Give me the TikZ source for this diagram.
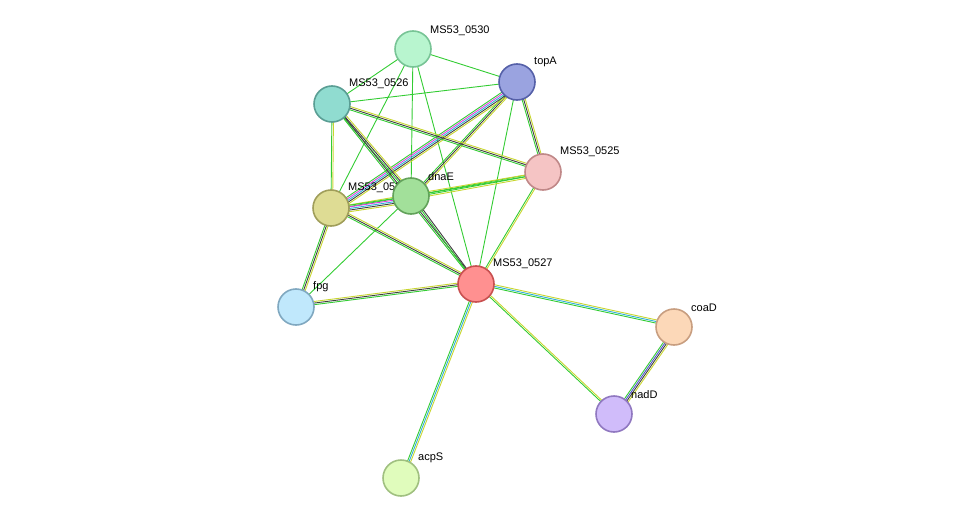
\documentclass[tikz,border=0pt]{standalone}
\usepackage{fontspec}
\setmainfont{Liberation Sans}
\usetikzlibrary{calc}
\definecolor{eg}{HTML}{33CC33}
\definecolor{ey}{HTML}{C8D630}
\definecolor{ed}{HTML}{404040}
\definecolor{em}{HTML}{E040E0}
\definecolor{eb}{HTML}{30B0D8}
\definecolor{ev}{HTML}{5050D0}
\tikzset{
  prot/.style={circle,line width=1.6pt,minimum size=36pt,inner sep=0pt},
  plabel/.style={font=\fontsize{11}{12}\selectfont,anchor=south west,inner sep=1pt},
}
\newcommand{\link}[3]{%
  \foreach \c [count=\i] in {#3} {%
    \pgfmathsetmacro{\o}{(\i-1)*1.6}
    \draw[\c,line width=0.9pt] ($(#1)!\o pt!90:(#2)$) -- ($(#2)!\o pt!-90:(#1)$);
  }}
\begin{document}
\begin{tikzpicture}[x=1pt,y=-1pt]
  \useasboundingbox (0,0) rectangle (976,524);
  % positions
  \coordinate (p0530) at (413,49);
  \coordinate (ptopA) at (517,82);
  \coordinate (p0526) at (332,104);
  \coordinate (p0525) at (543,172);
  \coordinate (pdnaE) at (411,196);
  \coordinate (p0524) at (331,208);
  \coordinate (p0527) at (476,284);
  \coordinate (pfpg) at (296,307);
  \coordinate (pcoaD) at (674,327);
  \coordinate (pnadD) at (614,414);
  \coordinate (pacpS) at (401,478);
  % edges
  \link{p0530}{ptopA}{eg}
  \link{p0530}{p0526}{eg}
  \link{p0530}{pdnaE}{eg}
  \link{p0530}{p0524}{eg}
  \link{p0530}{p0527}{eg}
  \link{ptopA}{p0526}{eg}
  \link{ptopA}{p0525}{eg,ed,ey}
  \link{ptopA}{pdnaE}{eg,ed,ey}
  \link{ptopA}{p0524}{eg,em,eb,ed,ey}
  \link{ptopA}{p0527}{eg}
  \link{p0526}{p0525}{eg,ed,ey}
  \link{p0526}{pdnaE}{eg,ed,ey}
  \link{p0526}{p0524}{eg,ey}
  \link{p0526}{p0527}{eg,ed}
  \link{p0525}{pdnaE}{eg,eg,ey}
  \link{p0525}{p0524}{ey,eg}
  \link{p0525}{p0527}{eg,ey}
  \link{pdnaE}{p0524}{eg,em,eb,ed,ey}
  \link{pdnaE}{p0527}{eg,ed}
  \link{pdnaE}{pfpg}{eg}
  \link{p0524}{pfpg}{eg,ed,ey}
  \link{p0524}{p0527}{eg,ed,ey}
  \link{pfpg}{p0527}{eg,ed,ey}
  \link{p0527}{pcoaD}{eg,eb,ey}
  \link{p0527}{pnadD}{eg,ey}
  \link{p0527}{pacpS}{eg,eb,ey}
  \link{pcoaD}{pnadD}{eg,ev,ed,ey}
  % proteins
  \node[prot,fill={rgb,255:red,184;green,245;blue,207},draw={rgb,255:red,120;green,196;blue,150}] (n0530) at (p0530) {};
  \node[plabel] at ($(p0530)+(16,-12)$) {MS53\_0530};
  \node[prot,fill={rgb,255:red,154;green,163;blue,224},draw={rgb,255:red,85;green,96;blue,168}] (ntopA) at (ptopA) {};
  \node[plabel] at ($(ptopA)+(16,-14)$) {topA};
  \node[prot,fill={rgb,255:red,144;green,220;blue,208},draw={rgb,255:red,90;green,158;blue,148}] (n0526) at (p0526) {};
  \node[plabel] at ($(p0526)+(16,-14)$) {MS53\_0526};
  \node[prot,fill={rgb,255:red,245;green,196;blue,196},draw={rgb,255:red,192;green,136;blue,136}] (n0525) at (p0525) {};
  \node[plabel] at ($(p0525)+(16,-14)$) {MS53\_0525};
  \node[prot,fill={rgb,255:red,222;green,220;blue,148},draw={rgb,255:red,160;green,158;blue,90}] (n0524) at (p0524) {};
  \node[plabel] at ($(p0524)+(16,-14)$) {MS53\_0524};
  \node[prot,fill={rgb,255:red,162;green,224;blue,154},draw={rgb,255:red,98;green,162;blue,90}] (ndnaE) at (pdnaE) {};
  \node[plabel] at ($(pdnaE)+(16,-14)$) {dnaE};
  \node[prot,fill={rgb,255:red,255;green,144;blue,144},draw={rgb,255:red,200;green,80;blue,80}] (n0527) at (p0527) {};
  \node[plabel] at ($(p0527)+(16,-14)$) {MS53\_0527};
  \node[prot,fill={rgb,255:red,192;green,232;blue,252},draw={rgb,255:red,128;green,168;blue,192}] (nfpg) at (pfpg) {};
  \node[plabel] at ($(pfpg)+(16,-14)$) {fpg};
  \node[prot,fill={rgb,255:red,252;green,216;blue,184},draw={rgb,255:red,200;green,158;blue,128}] (ncoaD) at (pcoaD) {};
  \node[plabel] at ($(pcoaD)+(16,-14)$) {coaD};
  \node[prot,fill={rgb,255:red,208;green,188;blue,250},draw={rgb,255:red,144;green,120;blue,192}] (nnadD) at (pnadD) {};
  \node[plabel] at ($(pnadD)+(16,-14)$) {nadD};
  \node[prot,fill={rgb,255:red,224;green,252;blue,188},draw={rgb,255:red,160;green,192;blue,128}] (nacpS) at (pacpS) {};
  \node[plabel] at ($(pacpS)+(16,-14)$) {acpS};
\end{tikzpicture}
\end{document}
